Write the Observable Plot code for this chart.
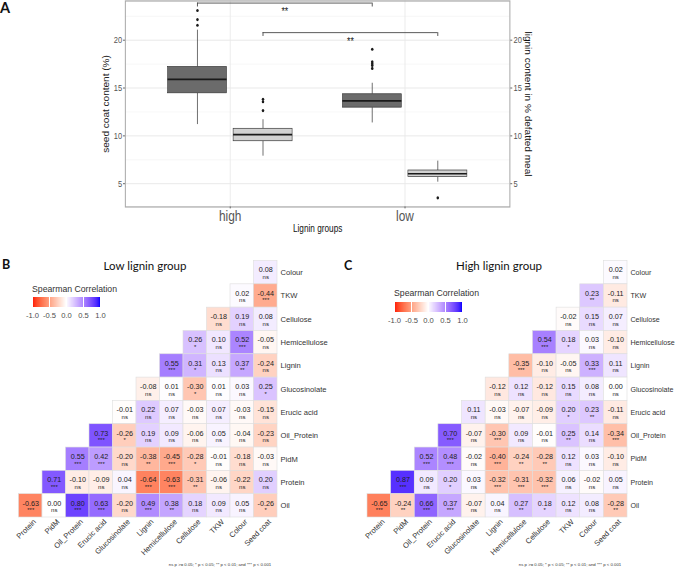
<!DOCTYPE html>
<html><head><meta charset="utf-8">
<script src="https://cdn.jsdelivr.net/npm/d3@7"></script>
<script src="https://cdn.jsdelivr.net/npm/@observablehq/plot@0.6"></script>
<style>
html,body{margin:0;padding:0;background:#fff;}
#root{position:relative;width:676px;height:567px;overflow:hidden;font-family:"Liberation Sans",Arial,sans-serif;}
#root > *{position:absolute;}
</style></head><body><div id="root"></div>
<script>
// ---------------- Panel A data (box summaries) ----------------
const groups = ["high", "low"];
const traits = ["seed coat", "lignin"];
const seedLo  = [11.18, 11.35];
const seedQ1  = [14.45, 12.95];
const seedMed = [15.91, 13.66];
const seedQ3  = [17.20, 14.35];
const seedHi  = [21.05, 15.50];
const seedOutHigh = [21.56, 22.15, 23.10];
const seedOutLow  = [17.05, 17.35, 17.55, 17.75, 19.05];
const ligLo  = [7.88, 5.16];
const ligQ1  = [9.44, 5.69];
const ligMed = [10.12, 6.04];
const ligQ3  = [10.74, 6.38];
const ligHi  = [11.69, 7.36];
const ligOutHigh = [12.64, 13.56, 13.83];
const ligOutLow  = [3.52];
const yTicksA = [5, 10, 15, 20];
const yMinorA = [7.5, 12.5, 17.5, 22.5];
const bracketTrait = ["seed coat", "lignin"];
const bracketY = [23.88, 20.79];
const bracketTickY = [23.47, 20.39];
const bracketLabelY = [22.98, 19.9];
const bracketLabel = ["**", "**"];
const yLabelLeft = "seed coat content (%)";
const yLabelRight = "lignin content in % defatted meal";
const xLabelA = "Lignin groups";

// ---------------- Correlation matrices ----------------
const cols = ["Protein","PidM","Oil_Protein","Erucic acid","Glucosinolate","Lignin","Hemicellulose","Cellulose","TKW","Colour","Seed coat"];
const rows = ["Colour","TKW","Cellulose","Hemicellulose","Lignin","Glucosinolate","Erucic acid","Oil_Protein","PidM","Protein","Oil"];
const lowR = [
 [0.08],
 [0.02, -0.44],
 [-0.18, 0.19, 0.08],
 [0.26, 0.10, 0.52, -0.05],
 [0.55, 0.31, 0.13, 0.37, -0.24],
 [-0.08, 0.01, -0.30, 0.01, 0.03, 0.25],
 [-0.01, 0.22, 0.07, -0.03, 0.07, -0.03, -0.15],
 [0.73, -0.26, 0.19, 0.09, -0.06, 0.05, -0.04, -0.23],
 [0.55, 0.42, -0.20, -0.38, -0.45, -0.28, -0.01, -0.18, -0.03],
 [0.71, -0.10, -0.09, 0.04, -0.64, -0.63, -0.31, -0.06, -0.22, 0.20],
 [-0.63, 0.00, 0.80, 0.63, -0.20, 0.49, 0.38, 0.18, 0.09, 0.05, -0.26]
];
const lowP = [
 ["ns"],
 ["ns","***"],
 ["ns","ns","ns"],
 ["*","ns","***","ns"],
 ["***","*","ns","**","ns"],
 ["ns","ns","*","ns","ns","*"],
 ["ns","ns","ns","ns","ns","ns","ns"],
 ["***","*","ns","ns","ns","ns","ns","ns"],
 ["***","***","ns","**","***","*","ns","ns","ns"],
 ["***","ns","ns","ns","***","***","**","ns","ns","ns"],
 ["***","ns","***","***","ns","***","**","ns","ns","ns","*"]
];
const highR = [
 [0.02],
 [0.23, -0.11],
 [-0.02, 0.15, 0.07],
 [0.54, 0.18, 0.03, -0.10],
 [-0.35, -0.10, -0.05, 0.33, 0.11],
 [-0.12, 0.12, -0.12, 0.15, 0.08, 0.00],
 [0.11, -0.03, -0.07, -0.09, 0.20, 0.23, -0.11],
 [0.70, -0.07, -0.30, 0.09, -0.01, 0.25, 0.14, -0.34],
 [0.52, 0.48, -0.02, -0.40, -0.24, -0.28, 0.12, 0.03, -0.10],
 [0.87, 0.09, 0.20, 0.03, -0.32, -0.31, -0.32, 0.06, -0.02, 0.05],
 [-0.65, -0.24, 0.66, 0.37, -0.07, 0.04, 0.27, 0.18, 0.12, 0.08, -0.28]
];
const highP = [
 ["ns"],
 ["**","ns"],
 ["ns","ns","ns"],
 ["***","*","ns","ns"],
 ["***","ns","ns","***","ns"],
 ["ns","ns","ns","ns","ns","ns"],
 ["ns","ns","ns","ns","*","**","ns"],
 ["***","ns","***","ns","ns","**","ns","***"],
 ["***","***","ns","***","**","**","ns","ns","ns"],
 ["***","ns","*","ns","***","***","***","ns","ns","ns"],
 ["***","**","***","***","ns","ns","**","*","ns","ns","**"]
];
const legendTicks = [-1, -0.5, 0, 0.5, 1];
const legendTitle = "Spearman Correlation";
const footnote = "ns p >= 0.05; * p < 0.05; ** p < 0.01; and *** p < 0.001";

const FONT = "Liberation Sans, Arial, sans-serif";
const root = document.getElementById("root");

// ---------------- Panel A ----------------
const stats = {
  "seed coat": {lo: seedLo, q1: seedQ1, med: seedMed, q3: seedQ3, hi: seedHi, out: [seedOutHigh, seedOutLow], fill: "#6b6b6b"},
  "lignin": {lo: ligLo, q1: ligQ1, med: ligMed, q3: ligQ3, hi: ligHi, out: [ligOutHigh, ligOutLow], fill: "#d2d2d2"}
};
const dodge = 0.1875, halfW = 0.16875;
const boxes = [], outliers = [];
groups.forEach((g, gi) => traits.forEach((t, ti) => {
  const s = stats[t];
  const xc = gi + 1 + (ti === 0 ? -dodge : dodge);
  boxes.push({g, t, xc, x1: xc - halfW, x2: xc + halfW, lo: s.lo[gi], q1: s.q1[gi], med: s.med[gi], q3: s.q3[gi], hi: s.hi[gi], fill: s.fill});
  s.out[gi].forEach(v => outliers.push({xc, v}));
}));
const brackets = bracketTrait.map((t, i) => {
  const ti = traits.indexOf(t);
  const xa = 1 + (ti === 0 ? -dodge : dodge), xb = 2 + (ti === 0 ? -dodge : dodge);
  return {xa, xb, xm: (xa + xb) / 2, y: bracketY[i], yt: bracketTickY[i], ly: bracketLabelY[i], label: bracketLabel[i]};
});
const bracketEnds = brackets.flatMap(b => [{x: b.xa, y1: b.y, y2: b.yt}, {x: b.xb, y1: b.y, y2: b.yt}]);

const SX = 0.82;
const plotA = Plot.plot({
  width: 700, height: 245,
  marginLeft: 157.8, marginRight: 56.6, marginTop: 0.5, marginBottom: 31.2,
  x: {domain: [0.4, 2.6], axis: null},
  y: {domain: [2.57, 24.1], axis: null},
  style: {fontFamily: FONT, background: "transparent", overflow: "visible"},
  marks: [
    Plot.ruleY(yMinorA, {stroke: "#f2f2f2", strokeWidth: 0.7}),
    Plot.ruleY(yTicksA, {stroke: "#e6e6e6", strokeWidth: 1}),
    Plot.ruleX([1, 2], {stroke: "#e9e9e9", strokeWidth: 1}),
    Plot.ruleX(boxes, {x: "xc", y1: "q3", y2: "hi", stroke: "#333", strokeWidth: 0.8}),
    Plot.ruleX(boxes, {x: "xc", y1: "lo", y2: "q1", stroke: "#333", strokeWidth: 0.8}),
    Plot.rect(boxes, {x1: "x1", x2: "x2", y1: "q1", y2: "q3", fill: "fill", stroke: "#333", strokeWidth: 0.7}),
    Plot.ruleY(boxes, {x1: "x1", x2: "x2", y: "med", stroke: "#1a1a1a", strokeWidth: 1.8}),
    Plot.dot(outliers, {x: "xc", y: "v", r: 1.6, fill: "#1a1a1a", stroke: null}),
    Plot.ruleY(brackets, {x1: "xa", x2: "xb", y: "y", stroke: "#444", strokeWidth: 1}),
    Plot.ruleX(bracketEnds, {x: "x", y1: "y1", y2: "y2", stroke: "#444", strokeWidth: 1}),
    Plot.text(brackets, {x: "xm", y: "ly", text: "label", fontSize: 11, fill: "#222"}),
    Plot.frame({stroke: "#aaaaaa", strokeWidth: 1.3}),
    Plot.axisY({anchor: "left", ticks: yTicksA, tickSize: 2.5, tickPadding: 1.5, fontSize: 9.5, label: null, color: "#555"}),
    Plot.axisY({anchor: "right", ticks: yTicksA, tickSize: 2.5, tickPadding: 2, fontSize: 9.5, label: null, color: "#555"}),
    Plot.axisX({ticks: [1, 2], tickFormat: d => groups[d - 1], tickSize: 2, tickPadding: 1.5, fontSize: 15, label: null, color: "#555"}),
    Plot.text([yLabelLeft], {text: d => d, frameAnchor: "left", textAnchor: "middle", lineAnchor: "middle", rotate: -90, dx: -23.8, fontSize: 10.4, fill: "#222"}),
    Plot.text([yLabelRight], {text: d => d, frameAnchor: "right", textAnchor: "middle", lineAnchor: "middle", rotate: 90, dx: 22.6, fontSize: 10.4, fill: "#111"}),
    Plot.text([xLabelA], {text: d => d, frameAnchor: "bottom", textAnchor: "middle", lineAnchor: "middle", dy: 22.3, fontSize: 10.4, fill: "#111"})
  ]
});
plotA.style.left = "0px"; plotA.style.top = "0px";
plotA.style.transform = `scaleX(${SX})`; plotA.style.transformOrigin = "0 0";
root.appendChild(plotA);

// ---------------- Heatmaps ----------------
const colorScale = {type: "linear", domain: [-1, 0, 1], range: ["red", "white", "blue"], interpolate: d3.interpolateLab};
function heat(R, P, left, width, mL, mR, labelSize) {
  const cells = [];
  rows.forEach((r, ri) => {
    const k = rows.length - 1 - ri;
    R[ri].forEach((v, j) => cells.push({row: r, col: cols[k + j], r: v, p: P[ri][j]}));
  });
  const H = 312, top = 250;
  const p = Plot.plot({
    width, height: H,
    marginLeft: mL, marginRight: mR, marginTop: 10.5, marginBottom: H - (517 - top),
    x: {domain: cols, padding: 0, round: false, axis: null},
    y: {domain: rows, padding: 0, round: false, axis: null},
    color: colorScale,
    style: {fontFamily: FONT, background: "transparent", overflow: "visible"},
    marks: [
      Plot.cell(cells, {x: "col", y: "row", fill: "r", stroke: "#dedede", strokeWidth: 0.6, inset: 0}),
      Plot.text(cells, {x: "col", y: "row", text: d => d.r.toFixed(2), dy: -2.6, fontSize: 7.2, fill: "#222"}),
      Plot.text(cells, {x: "col", y: "row", text: "p", dy: 4.6, fontSize: 6, fill: "#222"}),
      Plot.text(rows, {y: d => d, text: d => d, frameAnchor: "right", textAnchor: "start", dx: 3, fontSize: labelSize, fill: "#333"}),
      Plot.text(cols, {x: d => d, text: d => d, frameAnchor: "bottom", rotate: -45, textAnchor: "end", lineAnchor: "top", dy: 1, dx: 2, fontSize: 7.6, fill: "#333"})
    ]
  });
  p.style.left = left + "px"; p.style.top = top + "px";
  root.appendChild(p);
  return p;
}
const plotB = heat(lowR, lowP, 0, 338, 18.5, 61, 7.6);
const plotC = heat(highR, highP, 340, 336, 27, 49, 7.1);

function legend(plot, left, top) {
  const leg = plot.legend("color", {
    width: 88, height: 25, marginLeft: 10, marginRight: 10, marginTop: 0, marginBottom: 15,
    tickSize: 3, ticks: legendTicks, tickFormat: d => d.toFixed(1), label: null,
    style: {fontFamily: FONT, fontSize: "7.6px", color: "#4d4d4d", background: "transparent"}
  });
  leg.querySelectorAll(".tick line").forEach(l => l.setAttribute("stroke", "#fff"));
  leg.style.left = left + "px"; leg.style.top = top + "px"; leg.style.margin = "0";
  root.appendChild(leg);
}
legend(plotB, 22, 297);
legend(plotC, 384, 302);

// ---------------- Text overlay (panel letters, titles, legend titles, footnotes) ----------------
const ns = "http://www.w3.org/2000/svg";
const ov = document.createElementNS(ns, "svg");
ov.setAttribute("width", 676); ov.setAttribute("height", 567);
ov.style.left = "0px"; ov.style.top = "0px"; ov.style.pointerEvents = "none";
function txt(s, x, y, o = {}) {
  const t = document.createElementNS(ns, "text");
  t.textContent = s;
  t.setAttribute("x", x); t.setAttribute("y", y);
  t.setAttribute("font-family", o.family || FONT);
  t.setAttribute("font-size", o.size || 10);
  if (o.weight) t.setAttribute("font-weight", o.weight);
  t.setAttribute("fill", o.fill || "#111");
  t.setAttribute("text-anchor", o.anchor || "start");
  ov.appendChild(t);
}
const TITLE = "Lato, 'Open Sans', sans-serif";
txt("A", 0, 12.5, {family: TITLE, size: 14.5, weight: "bold"});
txt("B", 2, 268.5, {family: TITLE, size: 12.5, weight: "bold"});
txt("C", 344, 270, {family: TITLE, size: 12.5, weight: "bold"});
txt("Low lignin group", 145, 269.5, {family: TITLE, size: 11.5, anchor: "middle"});
txt("High lignin group", 499, 269.5, {family: TITLE, size: 11.5, anchor: "middle"});
txt(legendTitle, 32, 292, {size: 8.7, fill: "#333"});
txt(legendTitle, 394, 296, {size: 8.7, fill: "#333"});
txt(footnote, 220, 565.5, {size: 4.3, fill: "#333", anchor: "middle"});
txt(footnote, 570, 565.5, {size: 4.3, fill: "#333", anchor: "middle"});
root.appendChild(ov);
</script></body></html>
